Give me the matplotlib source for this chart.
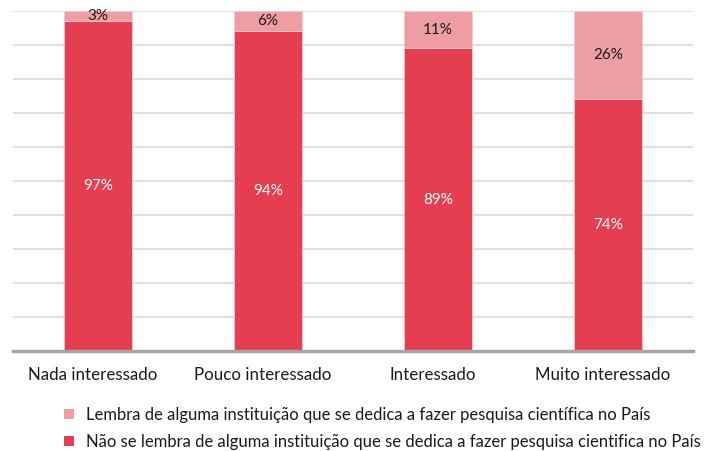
import matplotlib
matplotlib.use("Agg")
import matplotlib.pyplot as plt
import matplotlib.transforms as mtransforms
import numpy as np
from matplotlib.patches import Patch

categories = ["Nada interessado", "Pouco interessado", "Interessado", "Muito interessado"]
nao_lembra = [97, 94, 89, 74]
lembra = [3, 6, 11, 26]
label_lembra = "Lembra de alguma instituição que se dedica a fazer pesquisa científica no País"
label_nao = "Não se lembra de alguma instituição que se dedica a fazer pesquisa cientifica no País"

dark = "#E63E51"
light = "#EE9EA2"

plt.rcParams['font.family'] = ['Lato', 'DejaVu Sans']

fig = plt.figure(figsize=(7.06, 4.51), dpi=100)
ax = fig.add_axes([13/706, 1 - 351/451, 680/706, 340/451])

x = np.arange(len(categories))
w = 0.4
ax.bar(x, nao_lembra, width=w, color=dark, edgecolor="#F6C9CC", linewidth=0.6, zorder=3)
ax.bar(x, lembra, width=w, bottom=nao_lembra, color=light, edgecolor="#F6C9CC", linewidth=0.6, zorder=3)

for i in range(len(categories)):
    ax.text(x[i], nao_lembra[i] / 2, f"{nao_lembra[i]}%", ha="center", va="center",
            color="white", fontsize=11, zorder=4)
    ax.text(x[i], nao_lembra[i] + lembra[i] / 2, f"{lembra[i]}%", ha="center", va="center",
            color="#1a1a1a", fontsize=11, zorder=4)

ax.set_xlim(-0.5, 3.5)
ax.set_ylim(0, 100)
ax.set_yticks(np.arange(0, 101, 10))
ax.yaxis.grid(True, color="#D9D9D9", linewidth=1.2, zorder=0)
ax.tick_params(axis="y", left=False, labelleft=False)
ax.tick_params(axis="x", bottom=False, labelsize=12.2, pad=8, colors="#1a1a1a")
ax.set_xticks(x)
ax.set_xticklabels(categories)
shift = mtransforms.ScaledTranslation(-5/100, 0, fig.dpi_scale_trans)
for lbl in ax.get_xticklabels():
    lbl.set_transform(lbl.get_transform() + shift)
for s in ["top", "right", "left"]:
    ax.spines[s].set_visible(False)
ax.spines["bottom"].set_color("#A6A6A6")
ax.spines["bottom"].set_linewidth(2.5)
ax.spines["bottom"].set_zorder(5)

handles = [Patch(facecolor=light, edgecolor="none"), Patch(facecolor=dark, edgecolor="none")]
fig.legend(handles, [label_lembra, label_nao], loc="upper left",
           bbox_to_anchor=(49/706, 1 - 392/451), frameon=False, fontsize=12.0,
           handlelength=0.6, handleheight=0.6, handletextpad=0.72, labelspacing=0.64,
           labelcolor="#1a1a1a")

fig.savefig("out.png", dpi=100)
